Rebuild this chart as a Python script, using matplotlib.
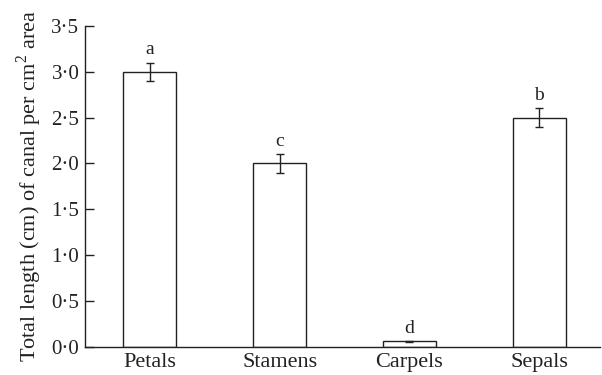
import matplotlib
matplotlib.use("Agg")
import matplotlib.pyplot as plt
from matplotlib.ticker import FuncFormatter

categories = ["Petals", "Stamens", "Carpels", "Sepals"]
values = [3.0, 2.0, 0.06, 2.5]
errors = [0.1, 0.1, 0.005, 0.1]
letters = ["a", "c", "d", "b"]
yticks = [0.0, 0.5, 1.0, 1.5, 2.0, 2.5, 3.0, 3.5]

plt.rcParams["font.family"] = ["Liberation Serif", "DejaVu Serif"]
plt.rcParams["mathtext.fontset"] = "custom"
plt.rcParams["mathtext.rm"] = "Liberation Serif"

fig = plt.figure(figsize=(6.02, 3.75), dpi=100)
ax = fig.add_axes([0.141, 0.0747, 0.856, 0.8563])

x = list(range(len(categories)))
ax.bar(x, values, width=0.41, color="white", edgecolor="#222222", linewidth=1.0, zorder=2)
ax.errorbar(x, values, yerr=errors, fmt="none", ecolor="#222222", elinewidth=1.0,
            capsize=3.2, capthick=1.0, zorder=3)

for xi, v, e, lab in zip(x, values, errors, letters):
    ax.annotate(lab, (xi, v + e), xytext=(0, 3), textcoords="offset points",
                ha="center", va="bottom", fontsize=14, color="#222222")

ax.set_xlim(-0.5, 3.47)
ax.set_ylim(0, 3.5)
ax.set_yticks(yticks)
ax.yaxis.set_major_formatter(FuncFormatter(lambda v, p: f"{v:.1f}".replace(".", "\u00b7")))
ax.set_xticks(x)
ax.set_xticklabels(categories)

ax.spines["top"].set_visible(False)
ax.spines["right"].set_visible(False)
for s in ("left", "bottom"):
    ax.spines[s].set_linewidth(1.0)
    ax.spines[s].set_color("#222222")

ax.tick_params(axis="y", direction="in", length=6.5, width=1.0, labelsize=15,
               colors="#222222", pad=4)
ax.tick_params(axis="x", length=0, labelsize=16, colors="#222222", pad=4)

ax.set_ylabel("Total length (cm) of canal per cm$^2$ area", fontsize=16, color="#222222",
              labelpad=5)

fig.savefig("out.png", dpi=100)
